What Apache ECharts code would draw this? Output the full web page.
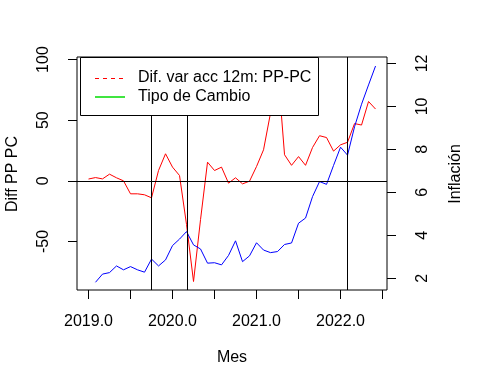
<!DOCTYPE html>
<html>
<head>
<meta charset="utf-8">
<script src="https://cdn.jsdelivr.net/npm/echarts@6/dist/echarts.min.js"></script>
<style>html,body{margin:0;padding:0;background:#fff}#c{width:485px;height:388px}</style>
</head>
<body>
<div id="c"></div>
<script>
// Monthly series starting Jan 2019
const startYear = 2019;
const redStartMonth = 0;   // Jan 2019
const blueStartMonth = 1;  // Feb 2019
// Dif. var acc 12m: PP-PC (left axis)
const redValues = [1.5, 2.7, 1.6, 5.5, 2.5, 0, -10.7, -10.7, -11.5, -14,
  8.5, 22.3, 11.3, 4.4, -36, -83, -32, 15.4, 8.5, 11.3,
  -1.9, 2.5, -2.5, -0.3, 11.8, 25.6, 56, 95, 21.5, 12.8,
  20, 12.8, 27.5, 37.2, 35.7, 24.5, 29.7, 31.8, 47.2, 46,
  65.4, 59.2];
// Inflación (right axis)
const blueValues = [1.81, 2.19, 2.26, 2.57, 2.39, 2.54, 2.39, 2.28, 2.89,
  2.57, 2.85, 3.52, 3.82, 4.17, 3.55, 3.36, 2.70, 2.72, 2.62, 3.06,
  3.74, 2.77, 3.04, 3.65, 3.31, 3.19, 3.24, 3.57, 3.64, 4.56,
  4.80, 5.80, 6.50, 6.37, 7.25, 8.10, 7.73, 9.05, 10.1, 11.0, 11.88];
const vLines = [2019.75, 2020 + 2/12, 2022 + 1/12];
const xTicks = [2019, 2019.5, 2020, 2020.5, 2021, 2021.5, 2022, 2022.5];
const xLabels = [2019, 2020, 2021, 2022];
const leftTicks = [-50, 0, 50, 100];
const rightTicks = [2, 4, 6, 8, 10, 12];
const legendNames = ['Dif. var acc 12m: PP-PC', 'Tipo de Cambio'];

const F = 'Liberation Sans, Arial, sans-serif';
const redData = redValues.map((v, i) => [startYear + (redStartMonth + i) / 12, v]);
const blueData = blueValues.map((v, i) => [startYear + (blueStartMonth + i) / 12, v]);

const chart = echarts.init(document.getElementById('c'), null, {renderer: 'canvas'});
chart.setOption({
  animation: false,
  backgroundColor: '#fff',
  grid: {left: 77, right: 98, top: 57, bottom: 98, show: true, borderColor: '#000', borderWidth: 1, backgroundColor: 'transparent'},
  xAxis: {
    type: 'value', min: 2018.863, max: 2022.553,
    splitLine: {show: false}, axisLine: {show: false, onZero: false},
    axisTick: {show: true, inside: false, length: 9, lineStyle: {color: '#000'}, customValues: xTicks},
    axisLabel: {show: true, margin: 24, color: '#000', fontFamily: F, fontSize: 16,
      customValues: xLabels, formatter: v => Number(v).toFixed(1)}
  },
  yAxis: [{
    type: 'value', min: -90, max: 102.1, position: 'left',
    splitLine: {show: false}, axisLine: {show: false, onZero: false},
    axisTick: {show: true, length: 9, lineStyle: {color: '#000'}, customValues: leftTicks},
    axisLabel: {show: true, rotate: 90, margin: 25, color: '#000', fontFamily: F, fontSize: 16,
      customValues: leftTicks, verticalAlign: 'bottom', align: 'center'}
  }, {
    type: 'value', min: 1.45, max: 12.3, position: 'right',
    splitLine: {show: false}, axisLine: {show: false, onZero: false},
    axisTick: {show: true, length: 9, lineStyle: {color: '#000'}, customValues: rightTicks},
    axisLabel: {show: true, rotate: 90, margin: 28, color: '#000', fontFamily: F, fontSize: 16,
      customValues: rightTicks, verticalAlign: 'top', align: 'center'}
  }],
  series: [{
    type: 'line', yAxisIndex: 0, data: redData, symbol: 'none', z: 2,
    lineStyle: {color: '#ff0000', width: 1}, silent: true,
    markLine: {
      symbol: 'none', silent: true, label: {show: false},
      lineStyle: {color: '#000', width: 1, type: 'solid'},
      data: [{yAxis: 0}].concat(vLines.map(x => ({xAxis: x})))
    }
  }, {
    type: 'line', yAxisIndex: 1, data: blueData, symbol: 'none', z: 3,
    lineStyle: {color: '#0000ff', width: 1}, silent: true
  }],
  graphic: {
    elements: [
      {type: 'rect', z: 100, shape: {x: 80.5, y: 57.5, width: 238, height: 58}, style: {fill: '#fff', stroke: '#000', lineWidth: 1}},
      {type: 'polyline', z: 101, shape: {points: [[95, 78.5], [125, 78.5]]}, style: {stroke: '#ff0000', fill: null, lineWidth: 1, lineDash: [4, 4]}},
      {type: 'polyline', z: 101, shape: {points: [[95, 97], [125, 97]]}, style: {stroke: '#00dd00', fill: null, lineWidth: 1.5}},
      {type: 'text', z: 101, x: 138, y: 78, style: {text: legendNames[0], font: '16px ' + F, fill: '#000', verticalAlign: 'middle'}},
      {type: 'text', z: 101, x: 138, y: 97, style: {text: legendNames[1], font: '16px ' + F, fill: '#000', verticalAlign: 'middle'}},
      {type: 'text', x: 232, y: 358, style: {text: 'Mes', font: '16px ' + F, fill: '#000', align: 'center', verticalAlign: 'middle'}},
      {type: 'text', x: 13, y: 174, rotation: Math.PI / 2, style: {text: 'Diff PP PC', font: '16px ' + F, fill: '#000', align: 'center', verticalAlign: 'middle'}},
      {type: 'text', x: 456, y: 174, rotation: Math.PI / 2, style: {text: 'Inflación', font: '16px ' + F, fill: '#000', align: 'center', verticalAlign: 'middle'}}
    ]
  }
});
</script>
</body>
</html>
